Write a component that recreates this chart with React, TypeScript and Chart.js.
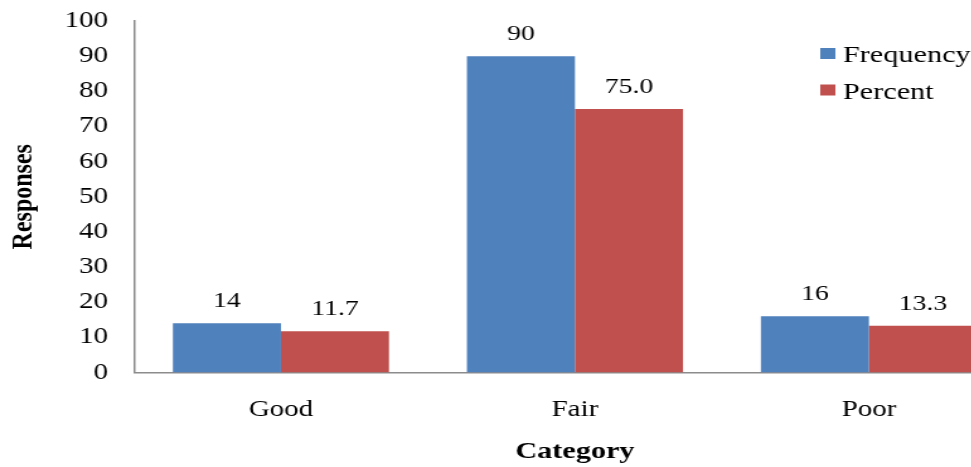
import { useEffect, useRef } from "react";
import { Chart, registerables } from "chart.js";

Chart.register(...registerables);

// Survey responses by category
const categories = ["Good", "Fair", "Poor"];
const frequency = [14, 90, 16];
const percent = [11.7, 75.0, 13.3];
const seriesNames = ["Frequency", "Percent"];
const seriesDecimals = [0, 1];
const yMin = 0;
const yMax = 100;
const yStep = 10;

const SERIF = '"Liberation Serif", "Times New Roman", Times, serif';
const BLUE = "#4F81BD";
const RED = "#C0504D";
const AXIS = "#8C8C8C";

// The drawing is laid out on a narrower canvas and widened horizontally.
const STRETCH = 1.26;
const CANVAS_W = 820;
const CANVAS_H = 467;

const valueLabels = {
  id: "valueLabels",
  afterDatasetsDraw(chart: any) {
    const ctx = chart.ctx;
    ctx.save();
    ctx.font = `22px ${SERIF}`;
    ctx.fillStyle = "#000";
    ctx.textAlign = "center";
    ctx.textBaseline = "alphabetic";
    chart.data.datasets.forEach((ds: any, di: number) => {
      const meta = chart.getDatasetMeta(di);
      meta.data.forEach((bar: any, i: number) => {
        const v = ds.data[i] as number;
        ctx.fillText(v.toFixed(seriesDecimals[di]), bar.x, bar.y - 16);
      });
    });
    ctx.restore();
  },
};

const boxLegend = {
  id: "boxLegend",
  afterDraw(chart: any) {
    const ctx = chart.ctx;
    ctx.save();
    ctx.font = `24px ${SERIF}`;
    ctx.textAlign = "left";
    ctx.textBaseline = "alphabetic";
    const x = 651;
    const rowTop = 48;
    const rowGap = 36.5;
    chart.data.datasets.forEach((ds: any, di: number) => {
      const top = rowTop + di * rowGap;
      ctx.fillStyle = ds.backgroundColor;
      ctx.fillRect(x, top, 12, 11);
      ctx.fillStyle = "#000";
      ctx.fillText(ds.label, x + 18, top + 14);
    });
    ctx.restore();
  },
};

export default function App() {
  const canvasRef = useRef<HTMLCanvasElement | null>(null);

  useEffect(() => {
    document.body.style.margin = "0";
    const canvas = canvasRef.current;
    if (!canvas) return;
    const chart = new Chart(canvas, {
      type: "bar",
      data: {
        labels: categories,
        datasets: [
          {
            label: seriesNames[0],
            data: frequency,
            backgroundColor: BLUE,
            borderWidth: 0,
            categoryPercentage: 0.735,
            barPercentage: 1,
          },
          {
            label: seriesNames[1],
            data: percent,
            backgroundColor: RED,
            borderWidth: 0,
            categoryPercentage: 0.735,
            barPercentage: 1,
          },
        ],
      },
      options: {
        responsive: false,
        animation: false,
        devicePixelRatio: 1,
        layout: { padding: { top: 21, left: 0, right: 13.7, bottom: 0 } },
        plugins: {
          legend: { display: false },
          title: { display: false },
          tooltip: { enabled: false },
        },
        scales: {
          x: {
            grid: { display: false, drawTicks: false },
            border: { display: true, color: AXIS, width: 1.5 },
            ticks: {
              color: "#000",
              font: { family: SERIF, size: 23 },
              padding: 24,
            },
            title: {
              display: true,
              text: "Category",
              color: "#000",
              font: { family: SERIF, size: 24, weight: "bold", lineHeight: 1 },
              padding: { top: 0, bottom: 3 },
            },
            afterFit: (scale: any) => {
              scale.height = 94.5;
            },
          },
          y: {
            min: yMin,
            max: yMax,
            grid: { display: false, drawTicks: false },
            border: { display: true, color: AXIS, width: 1.5 },
            ticks: {
              stepSize: yStep,
              color: "#000",
              font: { family: SERIF, size: 23 },
              padding: 20.5,
            },
            title: {
              display: true,
              text: "Responses",
              color: "#000",
              font: { family: SERIF, size: 24, weight: "bold", lineHeight: 1 },
              padding: { top: 6.5, bottom: 0 },
            },
            afterFit: (scale: any) => {
              scale.width = 106.3;
              // keep the tick-label gap from pushing the plot top down
              scale.paddingTop = 0;
              scale.paddingBottom = 0;
            },
          },
        },
      },
      plugins: [valueLabels, boxLegend],
    });
    return () => chart.destroy();
  }, []);

  return (
    <div style={{ width: 971, height: CANVAS_H, overflow: "hidden", background: "#fff" }}>
      <div
        style={{
          width: CANVAS_W,
          height: CANVAS_H,
          transform: `scaleX(${STRETCH})`,
          transformOrigin: "0 0",
        }}
      >
        <canvas ref={canvasRef} width={CANVAS_W} height={CANVAS_H} />
      </div>
    </div>
  );
}
